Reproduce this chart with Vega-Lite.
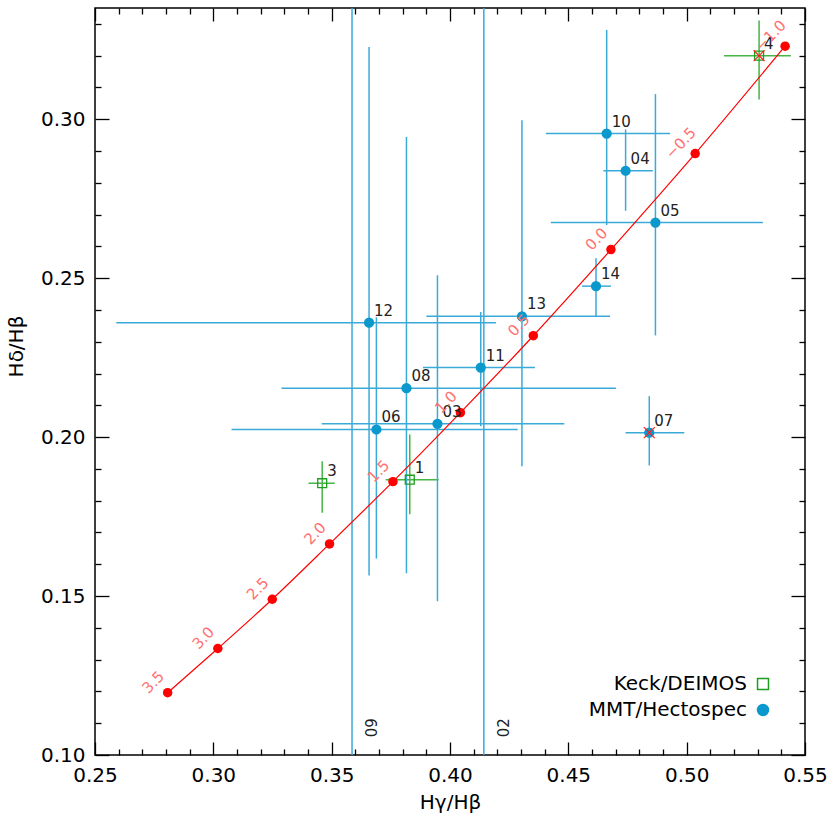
{
  "$schema": "https://vega.github.io/schema/vega-lite/v6.json",
  "width": 710,
  "height": 747,
  "autosize": "none",
  "padding": {"left": 95, "top": 8, "right": 25, "bottom": 75},
  "background": "white",
  "config": {
    "view": {"stroke": "black", "strokeWidth": 1.5},
    "font": "DejaVu Sans",
    "axis": {"grid": false, "domain": false, "tickColor": "black", "tickWidth": 1.3, "labelColor": "black", "labelFont": "DejaVu Sans", "labelFontSize": 20, "titleFont": "DejaVu Sans", "titleFontSize": 20, "titleFontWeight": "normal", "titleColor": "black", "labelFlush": false, "labelOverlap": false}
  },
  "datasets": {
    "obs": [
      {"id": "12", "inst": "MMT/Hectospec", "x": 0.3658, "y": 0.2360, "xlo": 0.2590, "xhi": 0.4194, "ylo": 0.1565, "yhi": 0.3227, "flag": false},
      {"id": "06", "inst": "MMT/Hectospec", "x": 0.3689, "y": 0.2024, "xlo": 0.3077, "xhi": 0.4286, "ylo": 0.1618, "yhi": 0.2377, "flag": false},
      {"id": "08", "inst": "MMT/Hectospec", "x": 0.3816, "y": 0.2154, "xlo": 0.3288, "xhi": 0.4701, "ylo": 0.1572, "yhi": 0.2944, "flag": false},
      {"id": "03", "inst": "MMT/Hectospec", "x": 0.3947, "y": 0.2042, "xlo": 0.3458, "xhi": 0.4483, "ylo": 0.1484, "yhi": 0.2509, "flag": false},
      {"id": "11", "inst": "MMT/Hectospec", "x": 0.4130, "y": 0.2219, "xlo": 0.3886, "xhi": 0.4359, "ylo": 0.2034, "yhi": 0.2394, "flag": false},
      {"id": "13", "inst": "MMT/Hectospec", "x": 0.4304, "y": 0.2380, "xlo": 0.3900, "xhi": 0.4676, "ylo": 0.1908, "yhi": 0.2997, "flag": false},
      {"id": "14", "inst": "MMT/Hectospec", "x": 0.4617, "y": 0.2475, "xlo": 0.4558, "xhi": 0.4680, "ylo": 0.2380, "yhi": 0.2563, "flag": false},
      {"id": "10", "inst": "MMT/Hectospec", "x": 0.4662, "y": 0.2955, "xlo": 0.4405, "xhi": 0.4930, "ylo": 0.2667, "yhi": 0.3281, "flag": false},
      {"id": "04", "inst": "MMT/Hectospec", "x": 0.4742, "y": 0.2838, "xlo": 0.4648, "xhi": 0.4857, "ylo": 0.2712, "yhi": 0.2968, "flag": false},
      {"id": "05", "inst": "MMT/Hectospec", "x": 0.4868, "y": 0.2675, "xlo": 0.4426, "xhi": 0.5322, "ylo": 0.2320, "yhi": 0.3079, "flag": false},
      {"id": "07", "inst": "MMT/Hectospec", "x": 0.4842, "y": 0.2014, "xlo": 0.4742, "xhi": 0.4990, "ylo": 0.1911, "yhi": 0.2129, "flag": true},
      {"id": "09", "inst": "MMT/Hectospec", "x": 0.3586, "y": 0.0600, "xlo": 0.3000, "xhi": 0.4200, "ylo": -0.2000, "yhi": 0.5000, "flag": false},
      {"id": "02", "inst": "MMT/Hectospec", "x": 0.4143, "y": 0.0600, "xlo": 0.3600, "xhi": 0.4700, "ylo": -0.2000, "yhi": 0.5000, "flag": false},
      {"id": "4", "inst": "Keck/DEIMOS", "x": 0.5306, "y": 0.3200, "xlo": 0.5158, "xhi": 0.5440, "ylo": 0.3062, "yhi": 0.3311, "flag": true},
      {"id": "1", "inst": "Keck/DEIMOS", "x": 0.3830, "y": 0.1866, "xlo": 0.3728, "xhi": 0.3952, "ylo": 0.1757, "yhi": 0.2008, "flag": false},
      {"id": "3", "inst": "Keck/DEIMOS", "x": 0.3460, "y": 0.1855, "xlo": 0.3402, "xhi": 0.3513, "ylo": 0.1762, "yhi": 0.1924, "flag": false}
    ],
    "model": [
      {"lab": "3.5", "x": 0.2807, "y": 0.1196},
      {"lab": "3.0", "x": 0.3019, "y": 0.1335},
      {"lab": "2.5", "x": 0.3249, "y": 0.1490},
      {"lab": "2.0", "x": 0.3491, "y": 0.1664},
      {"lab": "1.5", "x": 0.3759, "y": 0.1860},
      {"lab": "1.0", "x": 0.4044, "y": 0.2077},
      {"lab": "0.5", "x": 0.4352, "y": 0.2319},
      {"lab": "0.0", "x": 0.4680, "y": 0.2590},
      {"lab": "−0.5", "x": 0.5036, "y": 0.2892},
      {"lab": "−1.0", "x": 0.5416, "y": 0.3230}
    ]
  },
  "resolve": {"axis": {"x": "independent", "y": "independent"}},
  "layer": [
    {
      "data": {"name": "obs"},
      "mark": {"type": "rule", "clip": true, "strokeWidth": 1.5},
      "encoding": {
        "x": {"field": "xlo", "type": "quantitative", "scale": {"domain": [0.25, 0.55], "nice": false, "zero": false},
              "axis": {"orient": "bottom", "values": [0.25, 0.3, 0.35, 0.4, 0.45, 0.5, 0.55], "format": ".2f", "tickSize": -13, "labelPadding": 23, "title": "Hγ/Hβ", "titlePadding": 7}},
        "x2": {"field": "xhi"},
        "y": {"field": "y", "type": "quantitative", "scale": {"domain": [0.1, 0.335], "nice": false, "zero": false},
              "axis": {"orient": "left", "values": [0.1, 0.15, 0.2, 0.25, 0.3], "format": ".2f", "tickSize": -14, "labelPadding": 24, "title": "Hδ/Hβ", "titlePadding": 14, "titleY": 338}},
        "color": {"condition": {"test": "datum.inst === 'Keck/DEIMOS'", "value": "#45b545"}, "value": "#3aaad8"}
      }
    },
    {
      "data": {"name": "obs"},
      "mark": {"type": "rule", "clip": true, "strokeWidth": 1.5},
      "encoding": {
        "x": {"field": "x", "type": "quantitative", "scale": {"domain": [0.25, 0.55], "nice": false, "zero": false},
              "axis": {"orient": "top", "values": [0.25, 0.3, 0.35, 0.4, 0.45, 0.5, 0.55], "labels": false, "tickSize": -13, "title": null}},
        "y": {"field": "ylo", "type": "quantitative", "scale": {"domain": [0.1, 0.335], "nice": false, "zero": false},
              "axis": {"orient": "right", "values": [0.1, 0.15, 0.2, 0.25, 0.3], "labels": false, "tickSize": -14, "title": null}},
        "y2": {"field": "yhi"},
        "color": {"condition": {"test": "datum.inst === 'Keck/DEIMOS'", "value": "#45b545"}, "value": "#3aaad8"}
      }
    },
    {
      "data": {"name": "model"},
      "mark": {"type": "line", "clip": true, "color": "#ff0000", "strokeWidth": 1.2, "interpolate": "monotone"},
      "encoding": {
        "x": {"field": "x", "type": "quantitative", "scale": {"domain": [0.25, 0.55], "nice": false, "zero": false},
              "axis": {"orient": "bottom", "values": [0.26, 0.27, 0.28, 0.29, 0.31, 0.32, 0.33, 0.34, 0.36, 0.37, 0.38, 0.39, 0.41, 0.42, 0.43, 0.44, 0.46, 0.47, 0.48, 0.49, 0.51, 0.52, 0.53, 0.54], "labels": false, "tickSize": -6, "title": null}},
        "y": {"field": "y", "type": "quantitative", "scale": {"domain": [0.1, 0.335], "nice": false, "zero": false},
              "axis": {"orient": "left", "values": [0.11, 0.12, 0.13, 0.14, 0.16, 0.17, 0.18, 0.19, 0.21, 0.22, 0.23, 0.24, 0.26, 0.27, 0.28, 0.29, 0.31, 0.32, 0.33], "labels": false, "tickSize": -6, "title": null}}
      }
    },
    {
      "data": {"name": "model"},
      "mark": {"type": "point", "clip": true, "filled": true, "color": "#ff0000", "size": 90, "opacity": 1},
      "encoding": {
        "x": {"field": "x", "type": "quantitative", "scale": {"domain": [0.25, 0.55], "nice": false, "zero": false},
              "axis": {"orient": "top", "values": [0.26, 0.27, 0.28, 0.29, 0.31, 0.32, 0.33, 0.34, 0.36, 0.37, 0.38, 0.39, 0.41, 0.42, 0.43, 0.44, 0.46, 0.47, 0.48, 0.49, 0.51, 0.52, 0.53, 0.54], "labels": false, "tickSize": -6, "title": null}},
        "y": {"field": "y", "type": "quantitative", "scale": {"domain": [0.1, 0.335], "nice": false, "zero": false},
              "axis": {"orient": "right", "values": [0.11, 0.12, 0.13, 0.14, 0.16, 0.17, 0.18, 0.19, 0.21, 0.22, 0.23, 0.24, 0.26, 0.27, 0.28, 0.29, 0.31, 0.32, 0.33], "labels": false, "tickSize": -6, "title": null}}
      }
    },
    {
      "data": {"name": "obs"},
      "mark": {"type": "point", "clip": true, "opacity": 1, "strokeWidth": 1.3},
      "encoding": {
        "x": {"field": "x", "type": "quantitative", "scale": {"domain": [0.25, 0.55], "nice": false, "zero": false}, "axis": null},
        "y": {"field": "y", "type": "quantitative", "scale": {"domain": [0.1, 0.335], "nice": false, "zero": false}, "axis": null},
        "shape": {"field": "inst", "type": "nominal", "scale": {"domain": ["Keck/DEIMOS", "MMT/Hectospec"], "range": ["square", "circle"]},
                  "legend": {"title": null, "orient": "none", "legendX": 658, "legendY": 666, "labelAlign": "right", "labelOffset": -26, "labelFontSize": 20, "labelFont": "DejaVu Sans", "labelColor": "black", "symbolSize": 120, "symbolStrokeWidth": 1.5, "rowPadding": 6, "padding": 0}},
        "fill": {"field": "inst", "type": "nominal", "scale": {"domain": ["Keck/DEIMOS", "MMT/Hectospec"], "range": ["transparent", "#0b98cd"]}},
        "stroke": {"field": "inst", "type": "nominal", "scale": {"domain": ["Keck/DEIMOS", "MMT/Hectospec"], "range": ["#1e9e1e", "#0b98cd"]}},
        "size": {"value": 80}
      }
    },
    {
      "data": {"name": "obs"},
      "transform": [{"filter": "datum.flag"}],
      "mark": {"type": "point", "shape": "M-1,-1L1,1M-1,1L1,-1", "filled": false, "color": "#ff2020", "size": 120, "strokeWidth": 1.2, "opacity": 1},
      "encoding": {
        "x": {"field": "x", "type": "quantitative", "scale": {"domain": [0.25, 0.55], "nice": false, "zero": false}, "axis": null},
        "y": {"field": "y", "type": "quantitative", "scale": {"domain": [0.1, 0.335], "nice": false, "zero": false}, "axis": null}
      }
    },
    {
      "data": {"name": "obs"},
      "transform": [{"filter": "datum.id !== '09' && datum.id !== '02'"}],
      "mark": {"type": "text", "align": "left", "baseline": "middle", "dx": 5, "dy": -12, "fontSize": 15, "font": "DejaVu Sans", "color": "#222222"},
      "encoding": {
        "x": {"field": "x", "type": "quantitative", "scale": {"domain": [0.25, 0.55], "nice": false, "zero": false}, "axis": null},
        "y": {"field": "y", "type": "quantitative", "scale": {"domain": [0.1, 0.335], "nice": false, "zero": false}, "axis": null},
        "text": {"field": "id"}
      }
    },
    {
      "data": {"name": "obs"},
      "transform": [{"filter": "datum.id === '09' || datum.id === '02'"}],
      "mark": {"type": "text", "align": "center", "baseline": "middle", "angle": 270, "dy": 20, "fontSize": 15, "font": "DejaVu Sans", "color": "#222222"},
      "encoding": {
        "x": {"field": "x", "type": "quantitative", "scale": {"domain": [0.25, 0.55], "nice": false, "zero": false}, "axis": null},
        "y": {"datum": 0.1086, "type": "quantitative", "scale": {"domain": [0.1, 0.335], "nice": false, "zero": false}, "axis": null},
        "text": {"field": "id"}
      }
    },
    {
      "data": {"name": "model"},
      "mark": {"type": "text", "align": "center", "baseline": "middle", "angle": -46, "dx": -2.5, "dy": -17.7, "fontSize": 15, "font": "DejaVu Sans", "color": "#ff7070"},
      "encoding": {
        "x": {"field": "x", "type": "quantitative", "scale": {"domain": [0.25, 0.55], "nice": false, "zero": false}, "axis": null},
        "y": {"field": "y", "type": "quantitative", "scale": {"domain": [0.1, 0.335], "nice": false, "zero": false}, "axis": null},
        "text": {"field": "lab"}
      }
    }
  ]
}
